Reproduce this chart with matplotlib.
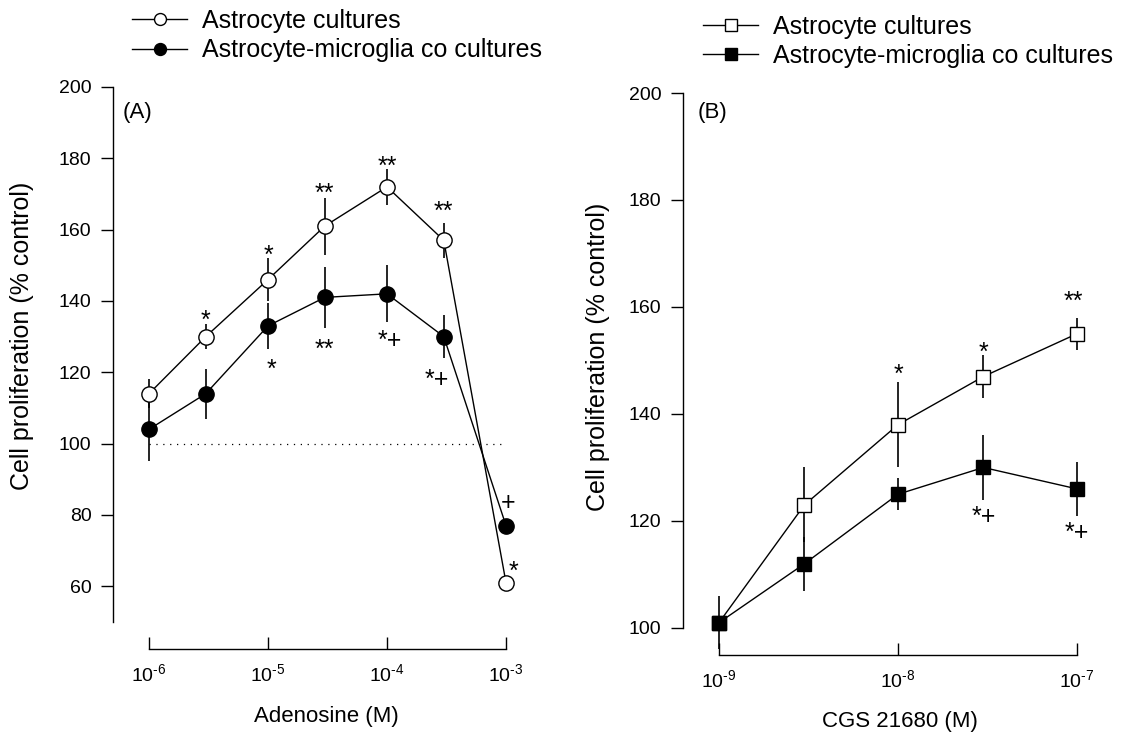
import numpy as np
import matplotlib
matplotlib.use('Agg')
import matplotlib.pyplot as plt

plt.rcParams['font.family'] = ['Liberation Sans', 'DejaVu Sans']

# panel A: adenosine
ado_x = [1e-6, 3e-6, 1e-5, 3e-5, 1e-4, 3e-4, 1e-3]
ado_astro = [114, 130, 146, 161, 172, 157, 61]
ado_astro_err = [4, 3.5, 6, 8, 5, 5, 0]
ado_co = [104, 114, 133, 141, 142, 130, 77]
ado_co_err = [9, 7, 6.5, 8.5, 8, 6, 0]
ado_ticks = [1e-6, 1e-5, 1e-4, 1e-3]
ado_ticklabels = ['$\\mathregular{10^{\u2010 6}}$', '$\\mathregular{10^{\u2010 5}}$',
                  '$\\mathregular{10^{\u2010 4}}$', '$\\mathregular{10^{\u2010 3}}$']
ado_yticks = [60, 80, 100, 120, 140, 160, 180, 200]
# significance marks: x, baseline y, text
ado_marks_x = [3e-6, 1e-5, 3e-5, 1e-4, 3e-4, 1.15e-3, 1.06e-5, 3e-5, 1.06e-4, 2.63e-4, 1.04e-3]
ado_marks_y = [132.5, 150.8, 168.1, 175.7, 163.1, 62.2, 118.8, 124.4, 126.7, 116.0, 81.4]
ado_marks_t = ['*', '*', '**', '**', '**', '*', '*', '**', '*+', '*+', '+']

# panel B: CGS 21680
cgs_x = [1e-9, 3e-9, 1e-8, 3e-8, 1e-7]
cgs_astro = [101, 123, 138, 147, 155]
cgs_astro_err = [0, 7, 8, 4, 3]
cgs_co = [101, 112, 125, 130, 126]
cgs_co_err = [5, 5, 3, 6, 5]
cgs_ticks = [1e-9, 1e-8, 1e-7]
cgs_ticklabels = ['$\\mathregular{10^{\u2010 9}}$', '$\\mathregular{10^{\u2010 8}}$',
                  '$\\mathregular{10^{\u2010 7}}$']
cgs_yticks = [100, 120, 140, 160, 180, 200]
cgs_marks_x = [1e-8, 3e-8, 9.5e-8, 3e-8, 1e-7]
cgs_marks_y = [146.0, 150.1, 159.6, 119.4, 116.4]
cgs_marks_t = ['*', '*', '**', '*+', '*+']

labels = ['Astrocyte cultures', 'Astrocyte-microglia co cultures']
ylab = 'Cell proliferation (% control)'

W, H = 1125, 736
fig = plt.figure(figsize=(W / 100, H / 100), dpi=100)


def px_axes(l, r, t, b):
    return fig.add_axes([l / W, 1 - b / H, (r - l) / W, (b - t) / H])


def style(ax, ybounds, xbounds, yticks, xticks, xticklabels):
    for s in ['top', 'right']:
        ax.spines[s].set_visible(False)
    ax.spines['left'].set_bounds(*ybounds)
    ax.spines['bottom'].set_bounds(*xbounds)
    for s in ['left', 'bottom']:
        ax.spines[s].set_linewidth(1.0)
    ax.set_yticks(yticks)
    ax.set_xticks(xticks)
    ax.set_xticklabels(xticklabels)
    ax.minorticks_off()
    ax.tick_params(axis='y', direction='out', length=8.5, width=1.0, pad=7, labelsize=14)
    ax.tick_params(axis='x', direction='in', length=8.5, width=1.0, pad=10, labelsize=14)


def draw(ax, x, y1, e1, y2, e2, marker, ms):
    ax.errorbar(x, y1, yerr=e1, fmt='none', ecolor='black', elinewidth=1.2, capsize=0, zorder=1)
    ax.errorbar(x, y2, yerr=e2, fmt='none', ecolor='black', elinewidth=1.2, capsize=0, zorder=1)
    h1, = ax.plot(x, y1, '-', color='black', lw=1.0, marker=marker, ms=ms,
                  mfc='white', mec='black', mew=1.0, zorder=3, clip_on=False)
    h2, = ax.plot(x, y2, '-', color='black', lw=1.0, marker=marker, ms=ms,
                  mfc='black', mec='black', mew=1.0, zorder=4, clip_on=False)
    return h1, h2


# ---- panel A
axA = px_axes(113, 530, 87, 649)
axA.set_xscale('log')
h1, h2 = draw(axA, ado_x, ado_astro, ado_astro_err, ado_co, ado_co_err, 'o', 11)
axA.hlines(100, 1e-6, 9e-4, colors='black', linestyles=(0, (1, 4.5)), lw=0.9)
axA.set_xlim(10 ** (-6 - 36 / 119), 10 ** (-3 + 24 / 119))
axA.set_ylim(42.4, 200)
style(axA, (50, 200), (1e-6, 1e-3), ado_yticks, ado_ticks, ado_ticklabels)
for x, y, t in zip(ado_marks_x, ado_marks_y, ado_marks_t):
    axA.text(x, y, t, ha='center', va='baseline', fontsize=18)
axA.text(0.022, 0.954, '(A)', transform=axA.transAxes, fontsize=16, va='center')
axA.legend([h1, h2], labels, loc='upper left', bbox_to_anchor=(132 / W, 1 - 9 / H),
           bbox_transform=fig.transFigure, frameon=False, fontsize=18,
           handlelength=2.2, handletextpad=0.6, labelspacing=0.22,
           borderpad=0, borderaxespad=0, markerscale=0.78)
fig.text(22 / W, 1 - 336 / H, ylab, rotation=90, ha='center', va='center', fontsize=18)
fig.text(326 / W, 1 - 722 / H, 'Adenosine (M)', ha='center', va='baseline', fontsize=16)

# ---- panel B
axB = px_axes(683, 1100, 93, 655)
axB.set_xscale('log')
g1, g2 = draw(axB, cgs_x, cgs_astro, cgs_astro_err, cgs_co, cgs_co_err, 's', 9.5)
axB.set_xlim(10 ** (-9 - 36 / 179), 10 ** (-7 + 23 / 179))
axB.set_ylim(94.95, 200)
style(axB, (100, 200), (1e-9, 1e-7), cgs_yticks, cgs_ticks, cgs_ticklabels)
for x, y, t in zip(cgs_marks_x, cgs_marks_y, cgs_marks_t):
    axB.text(x, y, t, ha='center', va='baseline', fontsize=18)
axB.text(0.034, 0.966, '(B)', transform=axB.transAxes, fontsize=16, va='center')
axB.legend([g1, g2], labels, loc='upper left', bbox_to_anchor=(703 / W, 1 - 15 / H),
           bbox_transform=fig.transFigure, frameon=False, fontsize=18,
           handlelength=2.2, handletextpad=0.6, labelspacing=0.2,
           borderpad=0, borderaxespad=0, markerscale=0.84)
fig.text(598 / W, 1 - 357 / H, ylab, rotation=90, ha='center', va='center', fontsize=18)
fig.text(900 / W, 1 - 727 / H, 'CGS 21680 (M)', ha='center', va='baseline', fontsize=16)

fig.savefig('out.png', dpi=100)
